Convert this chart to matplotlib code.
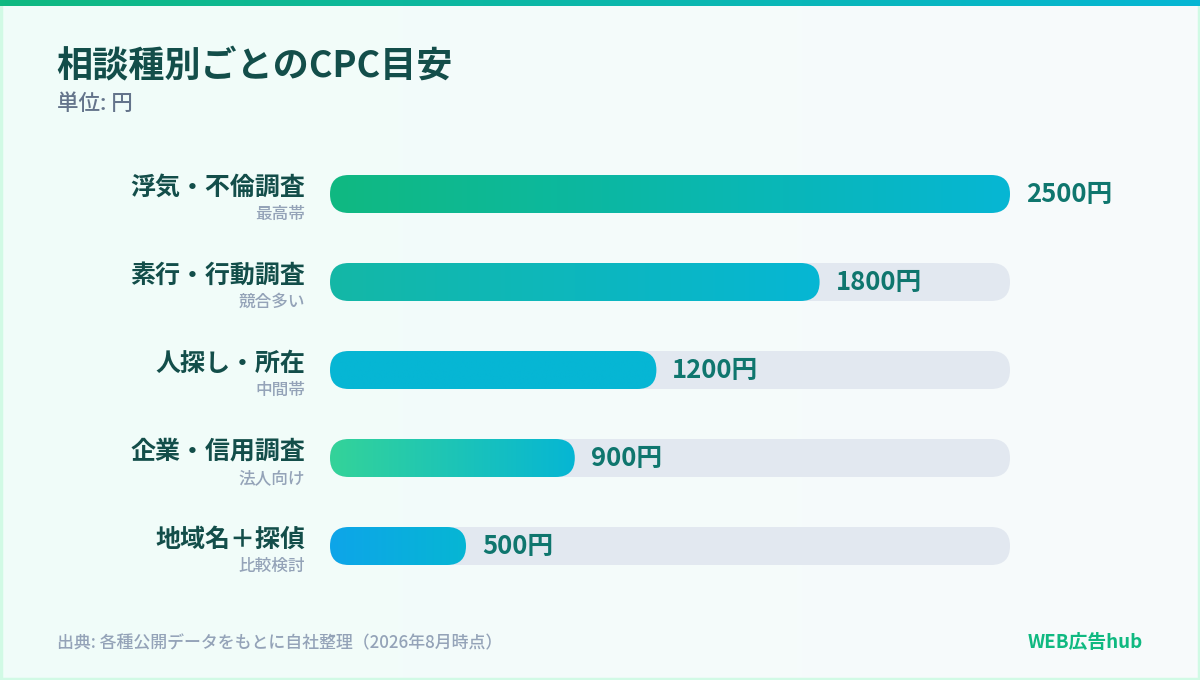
import numpy as np
import matplotlib
matplotlib.use('Agg')
import matplotlib.pyplot as plt
from matplotlib.colors import LinearSegmentedColormap
from matplotlib.patches import FancyBboxPatch, Rectangle

plt.rcParams['font.family'] = ['Noto Sans CJK JP', 'DejaVu Sans']

categories = ['浮気・不倫調査', '素行・行動調査', '人探し・所在', '企業・信用調査', '地域名＋探偵']
notes = ['最高帯', '競合多い', '中間帯', '法人向け', '比較検討']
cpc = [2500, 1800, 1200, 900, 500]
bar_start = ['#10b981', '#14b8a6', '#06b6d4', '#34d399', '#0ea5e9']
bar_end = '#06b6d4'
vmax = 2500

title = '相談種別ごとのCPC目安'
subtitle = '単位: 円'
source = '出典: 各種公開データをもとに自社整理（2026年8月時点）'
brand = 'WEB広告hub'

W, H = 1200, 680
fig = plt.figure(figsize=(12, 6.8), dpi=100)

# background layer in pixel coordinates
bg = fig.add_axes([0, 0, 1, 1])
grad = np.linspace(0, 1, 256).reshape(1, -1)
bg_cmap = LinearSegmentedColormap.from_list('bg', ['#f0fdf9', '#f8fafc'])
bg.imshow(grad, cmap=bg_cmap, extent=(0, W, H, 0), aspect='auto', zorder=0)
top_cmap = LinearSegmentedColormap.from_list('top', ['#10b981', '#06b6d4'])
bg.imshow(grad, cmap=top_cmap, extent=(0, W, 6, 0), aspect='auto', zorder=2)
bg.add_patch(Rectangle((1, 1), W - 2, H - 2, fill=False, ec='#d1fae5', lw=2.5, zorder=1))
bg.set_xlim(0, W)
bg.set_ylim(H, 0)
bg.axis('off')

bg.text(56, 66, title, fontsize=26, fontweight='bold', color='#134e4a', ha='left', va='center')
bg.text(57, 104, subtitle, fontsize=15.5, fontweight='medium', color='#64748b', ha='left', va='center')
bg.text(57, 643, source, fontsize=12.2, fontweight='medium', color='#94a3b8', ha='left', va='center')
bg.text(1143, 643, brand, fontsize=13.5, fontweight='bold', color='#10b981', ha='right', va='center')

# bar area: x 330..1010 px, rows 88 px apart
ax = fig.add_axes([330 / W, (H - 590) / H, 680 / W, 440 / H])
ax.set_xlim(0, vmax)
ax.set_ylim(len(cpc) - 0.5, -0.5)
ax.axis('off')
ax.patch.set_alpha(0)

px_x = vmax / 680.0
px_y = 1 / 88.0
h = 38 * px_y
r = 19 * px_x
asp = px_y / px_x
style = f'round,pad=0,rounding_size={r}'

for i, (cat, note, v) in enumerate(zip(categories, notes, cpc)):
    track = FancyBboxPatch((0, i - h / 2), vmax, h, boxstyle=style, mutation_aspect=asp,
                           fc='#e2e8f0', ec='none', zorder=1)
    ax.add_patch(track)
    bar = FancyBboxPatch((0, i - h / 2), v, h, boxstyle=style, mutation_aspect=asp,
                         fc='none', ec='none', zorder=2)
    ax.add_patch(bar)
    cmap = LinearSegmentedColormap.from_list(f'b{i}', [bar_start[i], bar_end])
    im = ax.imshow(grad, cmap=cmap, extent=(0, v, i + h / 2, i - h / 2), aspect='auto', zorder=2)
    im.set_clip_path(bar)

    ax.annotate(cat, xy=(0, i), xytext=(-18, 4.5), textcoords='offset points',
                ha='right', va='center', fontsize=18, fontweight='bold', color='#134e4a')
    ax.annotate(note, xy=(0, i), xytext=(-18, -14.5), textcoords='offset points',
                ha='right', va='center', fontsize=12, fontweight='medium', color='#94a3b8')
    ax.annotate(f'{v}円', xy=(v, i), xytext=(11.5, -0.5), textcoords='offset points',
                ha='left', va='center', fontsize=18.5, fontweight='bold', color='#0f766e')

ax.set_xlim(0, vmax)
ax.set_ylim(len(cpc) - 0.5, -0.5)

fig.savefig('out.png', dpi=100)
